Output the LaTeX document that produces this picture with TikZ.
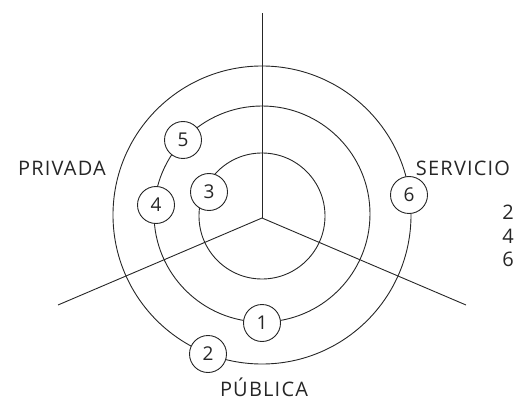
\documentclass[tikz,border=0pt]{standalone}
\usepackage{fontspec}
\setmainfont{Open Sans}
\begin{document}
\begin{tikzpicture}[x=1pt,y=-1pt,
  ln/.style={line width=0.9pt,black!85},
  num/.style={circle,draw,line width=0.9pt,black!85,fill=white,minimum size=37pt,inner sep=0pt,font=\fontsize{19}{19}\selectfont},
  lbl/.style={font=\fontsize{20}{20}\selectfont\addfontfeature{LetterSpace=6},inner sep=0pt,text=black!85}]
\useasboundingbox (0,0) rectangle (524,403);
\coordinate (o) at (262,218);
\coordinate (c) at (262,215);
\coordinate (top) at (262,13);
\coordinate (bl) at (58,305);
\coordinate (br) at (466,305);
\draw[ln] (o) -- (top);
\draw[ln] (o) -- (bl);
\draw[ln] (o) -- (br);
\draw[ln] (262,216) circle[radius=63];
\draw[ln] (262,214) circle[radius=108];
\draw[ln] (c) circle[radius=149];
\node[num] (n5) at (183,140) {5};
\node[num] (n4) at (156,205) {4};
\node[num] (n3) at (209,192) {3};
\node[num] (n6) at (409,195) {6};
\node[num] (n1) at (262,323) {1};
\node[num] (n2) at (208,354) {2};
\node[lbl] (priv) at (62,168) {PRIVADA};
\node[lbl] (serv) at (463,168) {SERVICIO};
\node[lbl] (pub) at (264,387) {PÚBLICA};
\node[lbl] (a2) at (508,212) {2};
\node[lbl] (a4) at (508,236) {4};
\node[lbl] (a6) at (508,259) {6};
\end{tikzpicture}
\end{document}
